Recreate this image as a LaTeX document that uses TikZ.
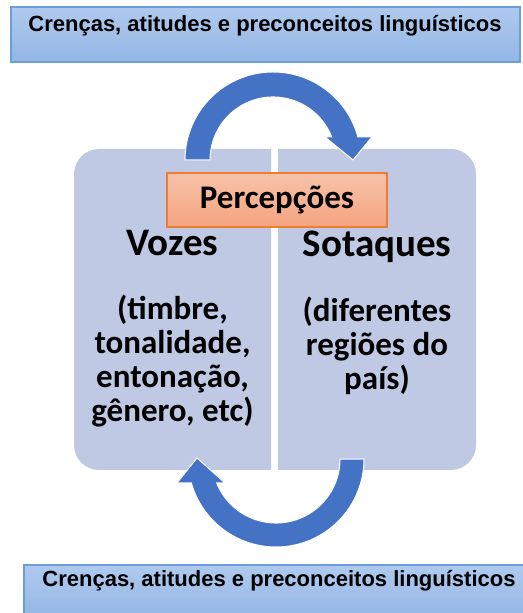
\documentclass[tikz,border=0pt]{standalone}
\usepackage{fontspec}
\setmainfont{Liberation Sans}
\newfontfamily\calibrifont{Carlito}
\definecolor{boxtop}{RGB}{176,202,238}
\definecolor{boxbottom}{RGB}{146,181,228}
\definecolor{boxedge}{RGB}{108,158,218}
\definecolor{panelblue}{RGB}{192,201,227}
\definecolor{arrowblue}{RGB}{68,114,196}
\definecolor{orangetop}{RGB}{248,194,168}
\definecolor{orangebottom}{RGB}{244,164,128}
\definecolor{orangeedge}{RGB}{237,125,49}

\begin{document}
\begin{tikzpicture}[x=1pt,y=1pt,
    title box/.style={draw=boxedge,line width=1.2pt,top color=boxtop,bottom color=boxbottom,minimum width=509pt,minimum height=55pt},
    title text/.style={font=\bfseries\fontsize{22}{24}\selectfont,inner sep=0pt,anchor=base},
    panel/.style={fill=panelblue},
    arc arrow/.style={fill=arrowblue,draw=white,line width=1pt},
    head text/.style={font=\calibrifont\bfseries\fontsize{39}{42}\selectfont,inner sep=0pt,anchor=base},
    body text/.style={font=\calibrifont\bfseries\fontsize{33}{34}\selectfont,inner sep=0pt,anchor=north,align=center},
    percep box/.style={draw=orangeedge,line width=1.2pt,top color=orangetop,bottom color=orangebottom,minimum width=220pt,minimum height=54pt,font=\calibrifont\bfseries\fontsize{33}{36}\selectfont}]
    \useasboundingbox (0,0) rectangle (522,613);

    \node[title box] (topbox) at (265.5,578.5) {};
    \node[title text] (toptitle) at (265,581) {Crenças, atitudes e preconceitos linguísticos};

    \fill[panel] (271,143) -- (99,143) arc (270:180:25) -- (74,439) arc (180:90:25) -- (271,464) -- cycle;
    \fill[panel] (278,143) -- (451,143) arc (-90:0:25) -- (476,439) arc (0:90:25) -- (278,464) -- cycle;

    \coordinate (topc) at (273,453);
    \coordinate (botc) at (276,154);
    \filldraw[arc arrow] (topc) ++(180:88) arc (180:15.2:88) -- (372,476) -- (353,453) -- (325,476) -- (331.7,476) arc (21.4:180:63) -- cycle;
    \filldraw[arc arrow] (botc) ++(0:88) arc (0:-164.2:88) -- (177,130) -- (197,155) -- (225,130) -- (216.7,130) arc (-158:0:64) -- cycle;

    \node[percep box] (percep) at (277,413) {Percepções};

    \node[head text] (vozes) at (172.5,357) {Vozes};
    \node[head text] (sotaques) at (377,356) {Sotaques};
    \node[body text] (vozesinfo) at (172.5,318) {(timbre,\\tonalidade,\\entonação,\\gênero, etc)};
    \node[body text] (sotaquesinfo) at (377,316) {(diferentes\\regiões do\\país)};

    \node[title box] (bottombox) at (278.5,20.5) {};
    \node[title text] (bottomtitle) at (279,26) {Crenças, atitudes e preconceitos linguísticos};
\end{tikzpicture}
\end{document}
